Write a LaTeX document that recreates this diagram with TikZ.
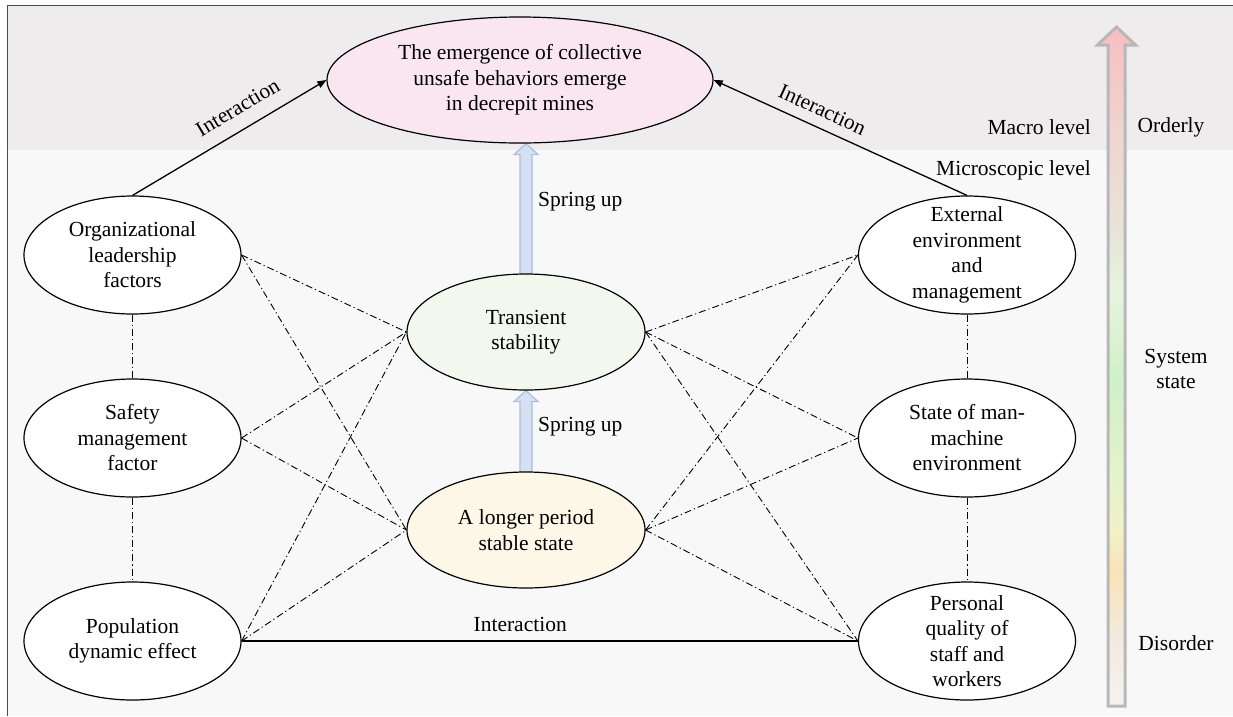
\documentclass[tikz,border=0pt]{standalone}
\usepackage{fontspec}
\setmainfont{Liberation Serif}
\usetikzlibrary{shapes.geometric,arrows.meta,calc}

\definecolor{frameGray}{HTML}{4D4D4D}
\definecolor{macroBand}{HTML}{EEECED}
\definecolor{microBand}{HTML}{F8F8F8}
\definecolor{pinkFill}{HTML}{F9E6F1}
\definecolor{greenFill}{HTML}{F2F8EE}
\definecolor{creamFill}{HTML}{FDF7E8}
\definecolor{springFill}{HTML}{D5E1F2}
\definecolor{springLine}{HTML}{A9BEDF}
\definecolor{scaleLine}{HTML}{B8B8B8}
% colour stops of the system-state scale, bottom to top
\definecolor{scA}{HTML}{F6F2EE}
\definecolor{scB}{HTML}{F2EAE0}
\definecolor{scC}{HTML}{FAE3B6}
\definecolor{scD}{HTML}{F0F2C8}
\definecolor{scE}{HTML}{E2F3CB}
\definecolor{scF}{HTML}{D0F0C8}
\definecolor{scG}{HTML}{E6F4DE}
\definecolor{scH}{HTML}{E8E3D8}
\definecolor{scI}{HTML}{EFD6D0}
\definecolor{scJ}{HTML}{F8BEC1}
\pgfdeclareverticalshading{statescale}{100bp}{%
  color(0bp)=(scA); color(25bp)=(scA); color(30bp)=(scB); color(35bp)=(scC);
  color(38bp)=(scD); color(42.5bp)=(scE); color(49bp)=(scF); color(55.6bp)=(scG);
  color(60bp)=(scH); color(66.7bp)=(scI); color(75bp)=(scJ); color(100bp)=(scJ)}

\pgfdeclarelayer{back}
\pgfdeclarelayer{ground}
\pgfsetlayers{ground,back,main}

\tikzset{
  ell/.style={ellipse, draw=black, line width=1.2pt, fill=white, inner sep=0pt},
  side/.style={ell, minimum width=217pt, minimum height=118pt},
  core/.style={ell, minimum width=238pt, minimum height=116pt},
  txt/.style={align=center, inner sep=0pt, font=\fontsize{21.5}{25.5}\selectfont},
  lbl/.style={inner sep=0pt, font=\fontsize{21.5}{25.5}\selectfont},
  link/.style={line width=0.9pt, dash pattern=on 7pt off 3pt on 1.2pt off 3pt},
  solidlink/.style={line width=1.3pt},
  tipend/.style={-{Triangle[length=9pt,width=7pt]}},
  tipstart/.style={{Triangle[length=9pt,width=7pt]}-},
  spring/.style={fill=springFill, draw=springLine, line width=1.2pt, line join=miter},
}

\begin{document}
\begin{tikzpicture}[x=1pt,y=-1pt]
\useasboundingbox (0,0) rectangle (1233,716);

% background bands and frame
\begin{pgfonlayer}{ground}
\fill[white] (0,0) rectangle (1233,716);
\fill[microBand] (7.5,150) rectangle (1233,716);
\fill[macroBand] (7.5,5.5) rectangle (1233,150);
\draw[frameGray, line width=1.5pt] (7.5,716) -- (7.5,5.5) -- (1233,5.5);
\end{pgfonlayer}

% macro level node
\node[ell, fill=pinkFill, minimum width=386pt, minimum height=126pt] (top) at (520,80) {};
\node[txt] (topT) at (top) {The emergence of collective\\unsafe behaviors emerge\\in decrepit mines};

% left column
\node[side] (org) at (132.5,255) {};
\node[txt] (orgT) at (org) {Organizational\\leadership\\factors};
\node[side] (safety) at (132.5,438) {};
\node[txt] (safetyT) at (safety) {Safety\\management\\factor};
\node[side] (pop) at (132.5,641) {};
\node[txt] (popT) at (pop) {Population\\dynamic effect};

% centre column
\node[core, fill=greenFill] (trans) at (526,332) {};
\node[txt] (transT) at (trans) {Transient\\stability};
\node[core, fill=creamFill] (longer) at (526,530) {};
\node[txt] (longerT) at (longer) {A longer period\\stable state};

% right column
\node[side] (ext) at (967,255) {};
\node[txt] (extT) at (ext) {External\\environment\\and\\management};
\node[side] (state) at (967,438) {};
\node[txt] (stateT) at (state) {State of man-\\machine\\environment};
\node[side] (pers) at (967,641) {};
\node[txt] (persT) at (pers) {Personal\\quality of\\staff and\\workers};

% "spring up" arrows, tucked under the ellipses
\begin{pgfonlayer}{back}
\coordinate (s1b) at ($(trans.north)+(0,3)$);
\coordinate (s1t) at (trans.north |- top.south);
\draw[spring] ($(s1b)+(-6,0)$) -- ($(s1t)+(-6,11)$) -- ($(s1t)+(-12,11)$) -- (s1t)
  -- ($(s1t)+(12,11)$) -- ($(s1t)+(6,11)$) -- ($(s1b)+(6,0)$) -- cycle;
\coordinate (s2b) at ($(longer.north)+(0,3)$);
\coordinate (s2t) at (trans.south);
\draw[spring] ($(s2b)+(-6,0)$) -- ($(s2t)+(-6,11)$) -- ($(s2t)+(-12,11)$) -- (s2t)
  -- ($(s2t)+(12,11)$) -- ($(s2t)+(6,11)$) -- ($(s2b)+(6,0)$) -- cycle;
\end{pgfonlayer}
\node[lbl, anchor=west] (spring1) at (538,202) {Spring up};
\node[lbl, anchor=west] (spring2) at (538,427) {Spring up};

% interactions towards the macro level
\draw[solidlink, tipend] (org.north) -- (top.west)
  node[lbl, sloped, pos=0.6, above=14pt] (intL) {Interaction};
\draw[solidlink, tipstart] (top.east) -- (ext.north)
  node[lbl, sloped, pos=0.4, above=10pt] (intR) {Interaction};
\draw[solidlink] (pop.east) -- (pers.west)
  node[lbl, pos=0.452, above=9pt] (intB) {Interaction};

% dash-dotted relations
\foreach \a in {org,safety,pop}
  \foreach \b in {trans,longer}
    \draw[link] (\a.east) -- (\b.west);
\foreach \a in {trans,longer}
  \foreach \b in {ext,state,pers}
    \draw[link] (\a.east) -- (\b.west);
\draw[link] (org.south) -- (safety.north);
\draw[link] (safety.south) -- (pop.north);
\draw[link] (ext.south) -- (state.north);
\draw[link] (state.south) -- (pers.north);

% level labels
\node[lbl, anchor=east] (macro) at (1091,127) {Macro level};
\node[lbl, anchor=east] (micro) at (1091,170) {Microscopic level};

% system state scale
\shadedraw[shading=statescale, draw=scaleLine, line width=3pt]
  (1108,706) -- (1108,45) -- (1097.5,45) -- (1116.5,27) -- (1135.5,45)
  -- (1125,45) -- (1125,706) -- cycle;
\node[lbl] (orderly) at (1171,127) {Orderly};
\node[lbl, align=center] (sysstate) at (1176,369) {System\\state};
\node[lbl] (disorder) at (1176,643) {Disorder};
\end{tikzpicture}
\end{document}
